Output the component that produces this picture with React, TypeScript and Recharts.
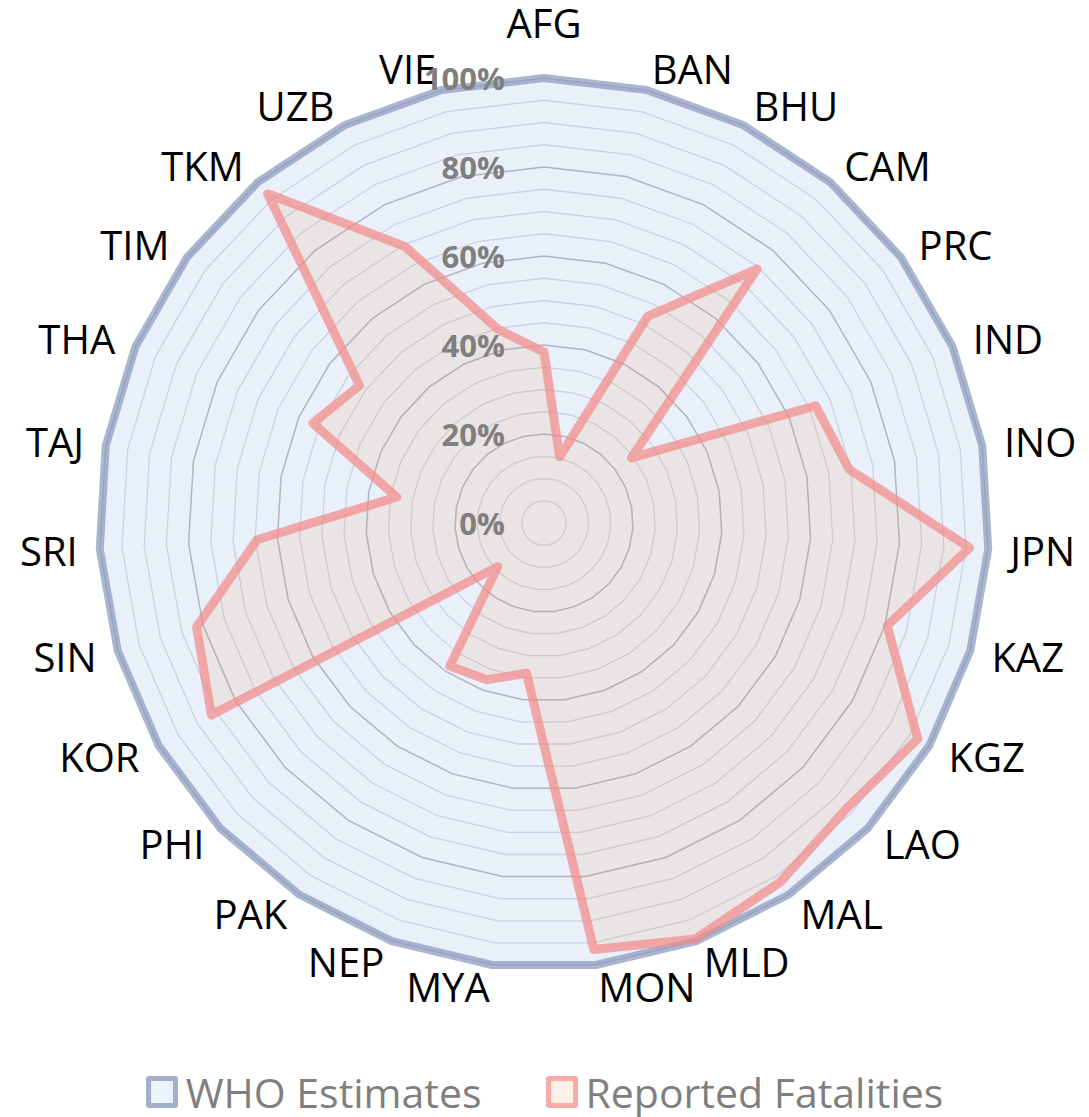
import React from "react";
import {
  Legend,
  PolarAngleAxis,
  PolarGrid,
  PolarRadiusAxis,
  Radar,
  RadarChart
} from "recharts";

const countries = [
  "AFG", "BAN", "BHU", "CAM", "PRC", "IND", "INO", "JPN", "KAZ",
  "KGZ", "LAO", "MAL", "MLD", "MON", "MYA", "NEP", "PAK", "PHI",
  "KOR", "SIN", "SRI", "TAJ", "THA", "TIM", "TKM", "UZB", "VIE"
];

const whoEstimates = [
  1, 1, 1, 1, 1, 1, 1, 1, 1,
  1, 1, 1, 1, 1, 1, 1, 1, 1,
  1, 1, 1, 1, 1, 1, 1, 1, 1
];

const reportedFatalities = [
  0.384, 0.153, 0.52, 0.745, 0.245, 0.665, 0.696, 0.958, 0.805,
  0.97, 0.935, 0.966, 0.995, 0.965, 0.34, 0.375, 0.385, 0.143,
  0.863, 0.815, 0.646, 0.336, 0.566, 0.517, 0.966, 0.695, 0.447
];

const radiusTicks = [0, 0.2, 0.4, 0.6, 0.8, 1];
const minorGrid = [
  0.05, 0.1, 0.15, 0.25, 0.3, 0.35, 0.45, 0.5, 0.55, 0.65, 0.7, 0.75, 0.85, 0.9, 0.95
];
const majorGrid = [0.2, 0.4, 0.6, 0.8, 1];
const legendOrder = ["who", "reported"];

const data = countries.map((name, i) => ({
  name,
  who: whoEstimates[i],
  reported: reportedFatalities[i]
}));

const W = 1089;
const H = 1117;
const CX = 544;
const CY = 523;
const OUTER = 445;
const FONT = "'Open Sans', sans-serif";

const legendIcons: Record<string, { border: string; fill: string }> = {
  who: { border: "#a3b0cb", fill: "#eef2fa" },
  reported: { border: "#f8aaa6", fill: "#fcf0e8" }
};

function AngleTick(props: any) {
  const { x, y, payload } = props;
  const dx = x - CX;
  const isTop = Math.abs(dx) < 1 && y < CY;
  const anchor = Math.abs(dx) < 1 ? "middle" : dx > 0 ? "start" : "end";
  return (
    <text
      x={x}
      y={isTop ? y - 18 : y}
      textAnchor={anchor}
      dominantBaseline={isTop ? "auto" : "central"}
      fill="#000"
      fontSize={40}
      fontFamily={FONT}
    >
      {payload.value}
    </text>
  );
}

function RadiusTick(props: any) {
  const { x, y, payload } = props;
  return (
    <text
      x={x - 39}
      y={y}
      textAnchor="end"
      dominantBaseline="central"
      fill="#7f7f7f"
      fontSize={31}
      fontWeight="bold"
      fontFamily={FONT}
    >
      {`${Math.round(payload.value * 100)}%`}
    </text>
  );
}

function LegendContent(props: any) {
  const items = [...(props.payload || [])].sort(
    (a: any, b: any) => legendOrder.indexOf(a.dataKey) - legendOrder.indexOf(b.dataKey)
  );
  return (
    <div
      style={{
        display: "flex",
        justifyContent: "center",
        alignItems: "center",
        gap: 64,
        height: 44,
        fontFamily: FONT,
        fontSize: 41,
        color: "#7f7f7f",
        lineHeight: "44px"
      }}
    >
      {items.map((entry: any) => {
        const icon = legendIcons[entry.dataKey] || legendIcons.who;
        return (
          <div key={entry.value} style={{ display: "flex", alignItems: "center" }}>
            <span
              style={{
                display: "inline-block",
                width: 22,
                height: 22,
                border: `5px solid ${icon.border}`,
                borderRadius: 3,
                background: icon.fill,
                marginRight: 8
              }}
            />
            <span>{entry.value}</span>
          </div>
        );
      })}
    </div>
  );
}

export default function App() {
  return (
    <div style={{ position: "absolute", top: 0, left: 0, width: W, height: H }}>
      <RadarChart
        width={W}
        height={H}
        data={data}
        cx={CX}
        cy={CY}
        outerRadius={OUTER}
        margin={{ top: 0, right: 0, bottom: 0, left: 0 }}
      >
        <PolarGrid
          gridType="polygon"
          radialLines={false}
          polarRadius={minorGrid.map((v) => v * OUTER)}
          stroke="#dcdfe6"
          strokeWidth={1.3}
        />
        <PolarGrid
          gridType="polygon"
          radialLines={false}
          polarRadius={majorGrid.map((v) => v * OUTER)}
          stroke="#bdbec3"
          strokeWidth={1.5}
        />
        <PolarAngleAxis
          dataKey="name"
          tickSize={22}
          tickLine={false}
          axisLine={false}
          tick={AngleTick}
        />
        <Radar
          name="WHO Estimates"
          dataKey="who"
          stroke="#8e9cbf"
          strokeOpacity={0.75}
          strokeWidth={8}
          strokeLinejoin="round"
          fill="#4472c4"
          fillOpacity={0.11}
          dot={false}
          isAnimationActive={false}
        />
        <Radar
          name="Reported Fatalities"
          dataKey="reported"
          stroke="#f28b8b"
          strokeOpacity={0.72}
          strokeWidth={9}
          strokeLinejoin="round"
          fill="#ed7d31"
          fillOpacity={0.1}
          dot={false}
          isAnimationActive={false}
        />
        <PolarRadiusAxis
          angle={90}
          domain={[0, 1]}
          ticks={radiusTicks as any}
          tickCount={6}
          axisLine={false}
          tickLine={false}
          tick={RadiusTick}
        />
        <Legend
          verticalAlign="bottom"
          content={LegendContent}
          wrapperStyle={{ top: 1070, left: 0, width: W, bottom: "auto" }}
        />
      </RadarChart>
    </div>
  );
}
